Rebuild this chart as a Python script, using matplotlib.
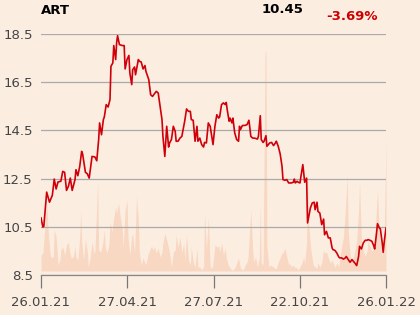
import numpy as np
import matplotlib.pyplot as plt

# position on the time axis (0 = 26.01.21, 365 = 26.01.22) and closing price
price_t = [0, 2, 3, 6, 9, 12, 14, 16, 18, 21, 23, 25, 27, 29, 31, 33, 36, 37, 39, 41,
           43, 44, 47, 49, 51, 54, 57, 59, 61, 62, 64, 66, 67, 69, 71, 73, 74, 76, 77, 79,
           80, 81, 83, 86, 88, 89, 91, 93, 94, 96, 97, 99, 100, 103, 104, 106, 108, 110, 111, 114,
           116, 118, 120, 122, 124, 126, 128, 129, 131, 133, 135, 136, 138, 140, 142, 143, 145, 147, 149, 151,
           152, 154, 156, 158, 159, 161, 163, 165, 166, 168, 170, 172, 173, 175, 177, 179, 181, 182, 184, 186,
           188, 189, 191, 193, 195, 196, 197, 199, 200, 202, 203, 205, 207, 209, 210, 211, 213, 216, 218, 220,
           222, 224, 226, 229, 230, 232, 233, 235, 236, 238, 239, 242, 244, 246, 248, 249, 251, 253, 255, 256,
           258, 260, 262, 263, 265, 267, 268, 269, 271, 272, 274, 275, 277, 278, 279, 281, 282, 284, 285, 287,
           289, 290, 292, 293, 295, 297, 299, 300, 302, 304, 306, 308, 309, 311, 313, 315, 316, 318, 320, 322,
           323, 325, 327, 329, 330, 332, 334, 336, 337, 339, 341, 343, 345, 346, 348, 350, 352, 353, 355, 356,
           358, 359, 361, 362, 363, 365]
price = [10.87, 10.49, 10.52, 11.94, 11.52, 11.81, 12.48, 12.07, 12.36, 12.39, 12.80, 12.76, 12.01, 12.18, 12.52, 12.01, 12.46, 12.87, 12.62, 13.01,
         13.63, 13.53, 12.76, 12.70, 12.52, 13.42, 13.40, 13.24, 14.12, 14.81, 14.32, 14.95, 15.06, 15.57, 15.47, 15.78, 17.16, 17.30, 18.02, 17.44,
         18.13, 18.43, 18.06, 18.02, 18.02, 17.05, 17.44, 17.61, 16.88, 16.40, 17.02, 17.13, 16.81, 17.44, 17.37, 17.34, 17.05, 17.19, 16.95, 16.61,
         15.98, 15.91, 16.02, 16.12, 16.05, 15.50, 14.95, 14.25, 13.42, 14.67, 13.81, 13.98, 14.12, 14.67, 14.46, 14.05, 14.05, 14.18, 14.25, 14.67,
         14.88, 15.39, 15.29, 15.29, 14.95, 14.92, 14.05, 14.67, 14.05, 14.18, 13.91, 13.81, 14.00, 13.98, 14.81, 14.67, 14.18, 13.91, 14.67, 15.15,
         15.01, 15.06, 15.57, 15.64, 15.57, 15.66, 15.36, 14.88, 15.01, 14.81, 15.01, 14.39, 14.12, 14.05, 14.67, 14.53, 14.70, 14.71, 14.74, 14.92,
         14.25, 14.18, 14.18, 14.14, 14.25, 15.11, 14.12, 14.00, 14.05, 14.28, 13.84, 13.98, 14.00, 13.87, 13.98, 14.05, 13.84, 13.53, 13.01, 12.46,
         12.43, 12.46, 12.32, 12.32, 12.32, 12.35, 12.48, 12.32, 12.39, 12.35, 12.32, 12.59, 13.08, 12.73, 12.35, 12.52, 10.66, 11.07, 11.28, 11.49,
         11.52, 11.21, 11.52, 11.14, 11.07, 10.59, 10.82, 10.17, 10.31, 10.04, 10.04, 9.62, 9.55, 9.52, 9.41, 9.25, 9.21, 9.21, 9.16, 9.21,
         9.27, 9.14, 9.03, 9.14, 9.09, 9.00, 8.89, 9.27, 9.69, 9.58, 9.83, 9.94, 9.94, 9.97, 9.94, 9.90, 9.72, 9.58, 10.24, 10.63,
         10.45, 10.42, 9.83, 9.44, 9.83, 10.45]

# traded volume (arbitrary units)
vol_t = [0, 2, 6, 8, 10, 13, 14, 16, 18, 20, 21, 23, 25, 27, 29, 30, 32, 34, 36, 37,
         39, 41, 42, 43, 45, 47, 49, 50, 52, 54, 56, 57, 60, 61, 63, 65, 67, 68, 70, 72,
         73, 75, 77, 79, 80, 82, 84, 86, 87, 89, 91, 92, 94, 96, 97, 99, 101, 103, 104, 106,
         108, 110, 111, 113, 115, 117, 118, 120, 122, 124, 126, 128, 129, 131, 133, 135, 136, 138, 140, 142,
         143, 145, 147, 149, 151, 152, 154, 156, 158, 159, 161, 163, 165, 166, 168, 170, 172, 173, 175, 177,
         179, 181, 182, 184, 186, 188, 189, 191, 193, 195, 196, 198, 200, 202, 203, 205, 207, 209, 211, 212,
         214, 216, 218, 219, 222, 224, 225, 227, 229, 231, 232, 233, 235, 237, 238, 239, 241, 243, 246, 248,
         249, 251, 253, 255, 256, 258, 260, 262, 263, 265, 267, 269, 270, 272, 274, 276, 278, 279, 281, 282,
         283, 285, 286, 288, 290, 292, 293, 295, 297, 299, 300, 302, 304, 306, 308, 309, 311, 313, 315, 316,
         318, 320, 322, 324, 325, 327, 329, 330, 332, 334, 336, 337, 339, 341, 343, 345, 346, 348, 350, 352,
         353, 356, 358, 360, 361, 363, 365]
volume = [16, 18, 68, 34, 14, 14, 41, 34, 6, 11, 21, 24, 16, 26, 29, 21, 13, 14, 24, 14,
          11, 34, 61, 31, 11, 32, 19, 4, 13, 29, 18, 19, 91, 21, 19, 26, 41, 24, 18, 28,
          49, 39, 54, 64, 58, 68, 53, 41, 24, 61, 71, 34, 16, 36, 36, 18, 74, 51, 19, 6,
          13, 8, 6, 16, 21, 25, 21, 24, 18, 23, 14, 19, 28, 38, 31, 23, 18, 4, 19, 21,
          36, 24, 34, 18, 28, 11, 36, 11, 6, 24, 9, 4, 23, 4, 4, 1, 4, 58, 21, 53,
          4, 3, 8, 26, 24, 25, 19, 28, 16, 23, 13, 6, 3, 1, 1, 3, 8, 13, 3, 2,
          1, 6, 9, 13, 61, 21, 9, 14, 4, 14, 68, 8, 6, 219, 219, 24, 4, 6, 4, 2,
          3, 9, 13, 18, 18, 23, 14, 6, 8, 4, 6, 3, 4, 1, 4, 8, 14, 7, 30, 100,
          50, 25, 18, 6, 4, 3, 8, 4, 8, 21, 18, 19, 13, 8, 11, 8, 4, 8, 4, 11,
          24, 34, 61, 95, 40, 15, 10, 12, 20, 30, 60, 89, 30, 20, 15, 20, 30, 25, 20, 22,
          30, 81, 35, 20, 15, 30, 131]

date_labels = ["26.01.21", "27.04.21", "27.07.21", "22.10.21", "26.01.22"]
y_ticks = [8.5, 10.5, 12.5, 14.5, 16.5, 18.5]

bg = "#fcede1"
fig = plt.figure(figsize=(4.2, 3.15), dpi=100, facecolor=bg)
ax = fig.add_axes([41 / 420, 1 - 275 / 315, 345 / 420, 241 / 315])
ax2 = ax.twinx()

# volume behind the price line
ax2.fill_between(vol_t, volume, 0, color="#f8d8c2", lw=0)
ax2.set_ylim(-4, 237)
ax2.set_facecolor(bg)
ax2.set_yticks([])
for s in ax2.spines.values():
    s.set_visible(False)

ax.set_zorder(ax2.get_zorder() + 1)
ax.patch.set_visible(False)
ax.plot(price_t, price, color="#d0000a", lw=1.2)

ax.set_xlim(0, 365)
ax.set_ylim(8.5, 18.5)
ax.set_yticks(y_ticks)
ax.set_yticklabels([f"{v:.1f}" for v in y_ticks])
ax.set_xticks(np.linspace(0, 365, len(date_labels)))
ax.set_xticklabels(date_labels)
ax.grid(axis="y", color="#aaaaaa", lw=0.9)
ax.tick_params(axis="y", length=0, pad=6, labelsize=9.5, labelcolor="#444444")
ax.tick_params(axis="x", length=9, width=0.9, color="#777777", pad=6,
               labelsize=9.5, labelcolor="#444444")
for side in ["left", "right", "top"]:
    ax.spines[side].set_visible(False)
ax.spines["bottom"].set_color("#888888")
ax.spines["bottom"].set_linewidth(0.9)

fig.text(41 / 420, 1 - 10.5 / 315, "ART", fontsize=9.5, fontweight="bold",
         va="center", ha="left")
fig.text(303 / 420, 1 - 9.5 / 315, "10.45", fontsize=9.5, fontweight="bold",
         va="center", ha="right")
fig.text(378 / 420, 1 - 16.5 / 315, "-3.69%", fontsize=9.5, fontweight="bold",
         color="#cc0000", va="center", ha="right")

fig.savefig("out.png", dpi=100, facecolor=bg)
